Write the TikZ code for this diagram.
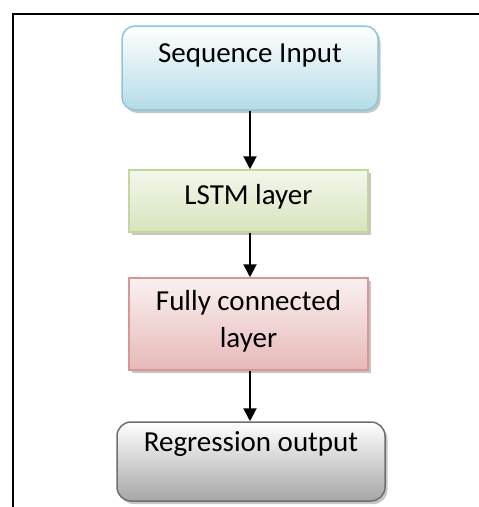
\documentclass[tikz,border=0pt]{standalone}
\usepackage{fontspec}
\setmainfont{Carlito}
\usetikzlibrary{arrows.meta,shadows}

\definecolor{seqedge}{HTML}{8DC6D9}
\definecolor{seqfill}{HTML}{B3DBE7}
\definecolor{lstmedge}{HTML}{C3D69B}
\definecolor{lstmfill}{HTML}{D7E4BD}
\definecolor{fcedge}{HTML}{D99694}
\definecolor{fcfill}{HTML}{E6B9B8}
\definecolor{regedge}{HTML}{6F6F6F}
\definecolor{regfill}{HTML}{A6A6A6}

\begin{document}
\begin{tikzpicture}[x=1pt,y=-1pt,
    layerbox/.style={draw, line width=1.5pt, inner sep=0pt,
        drop shadow={shadow xshift=2.5pt, shadow yshift=-3pt, fill=black!45, opacity=.5}},
    lbl/.style={font=\fontsize{29}{37}\selectfont, inner sep=0pt, anchor=base},
    flow/.style={line width=2pt, -{Triangle[length=13pt,width=13pt]}}]
    \useasboundingbox (0,0) rectangle (479,507);

    % outer frame (only top and left side visible)
    \draw[line width=2pt] (13,507) -- (13,14) -- (479,14);

    % layer boxes
    \node[layerbox, rounded corners=13pt, draw=seqedge, top color=white, bottom color=seqfill,
          minimum width=256pt, minimum height=84pt] (seq) at (250,68) {};
    \node[layerbox, draw=lstmedge, top color=lstmfill!30, bottom color=lstmfill,
          minimum width=239pt, minimum height=62pt] (lstm) at (248.5,201) {};
    \node[layerbox, draw=fcedge, top color=fcfill!20, bottom color=fcfill,
          minimum width=239pt, minimum height=92pt] (fc) at (248.5,324) {};
    \node[layerbox, rounded corners=14pt, draw=regedge, top color=white, bottom color=regfill,
          minimum width=268pt, minimum height=79pt] (reg) at (251,461.5) {};

    % box texts
    \node[lbl] (seqtxt) at (250,62) {Sequence Input};
    \node[lbl] (lstmtxt) at (248.5,204) {LSTM layer};
    \node[lbl] (fctxt1) at (248.5,310) {Fully connected};
    \node[lbl] (fctxt2) at (248.5,347) {layer};
    \node[lbl] (regtxt) at (251,451) {Regression output};

    % arrows
    \draw[flow] (seq.south) -- (seq.south |- lstm.north);
    \draw[flow] (seq.south |- lstm.south) -- (seq.south |- fc.north);
    \draw[flow] (seq.south |- fc.south) -- (seq.south |- reg.north);

\end{tikzpicture}
\end{document}
